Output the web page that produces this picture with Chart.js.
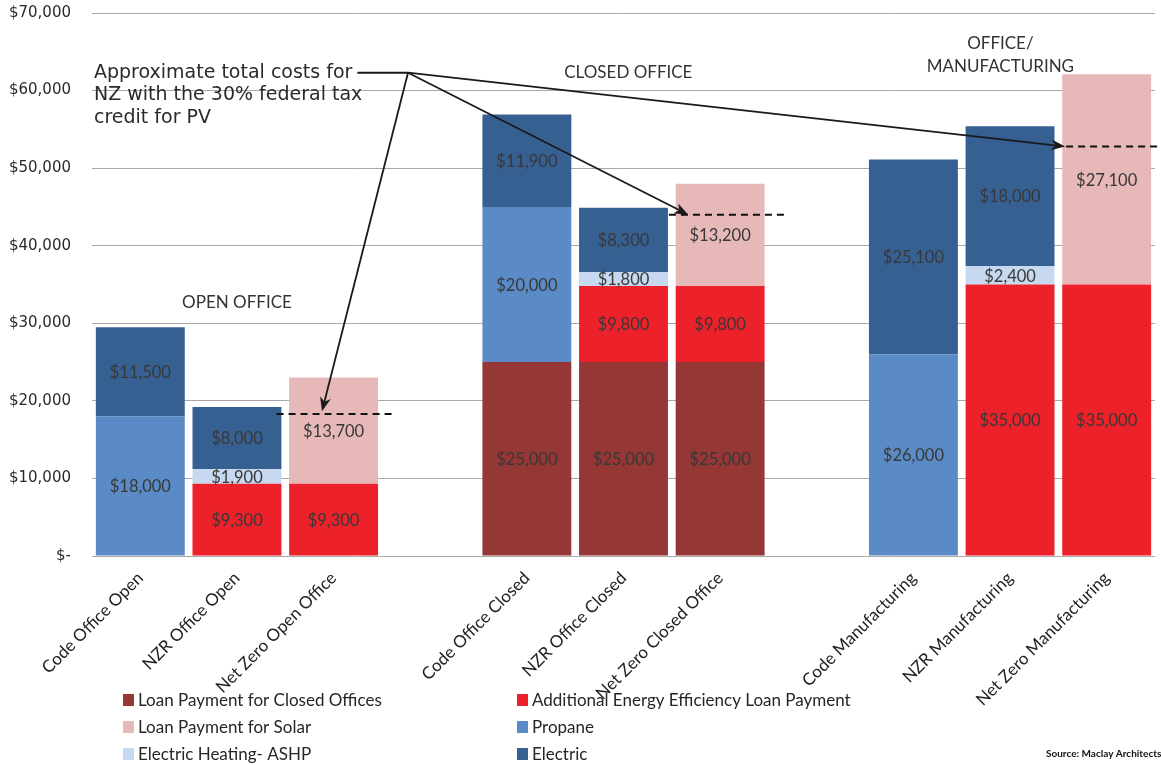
<!DOCTYPE html>
<html>
<head>
<meta charset="utf-8">
<script src="https://cdn.jsdelivr.net/npm/chart.js@4.4.1/dist/chart.umd.min.js"></script>
<style>
  html, body { margin: 0; padding: 0; background: #fff; overflow: hidden; }
  #wrap { position: relative; width: 1161px; height: 765px; }
</style>
</head>
<body>
<div id="wrap"><canvas id="c" width="1161" height="765"></canvas></div>
<script>
// Building scenarios; empty strings leave a gap between the three groups
const categories = [
  'Code Office Open', 'NZR Office Open', 'Net Zero Open Office', '',
  'Code Office Closed', 'NZR Office Closed', 'Net Zero Closed Office', '',
  'Code Manufacturing', 'NZR Manufacturing', 'Net Zero Manufacturing'
];

// Annual cost components ($), stacked bottom to top
const loanClosedOffices = [null, null, null, null, 25000, 25000, 25000, null, null, null, null];
const efficiencyLoan    = [null, 9300, 9300, null, null, 9800, 9800, null, null, 35000, 35000];
const propane           = [18000, null, null, null, 20000, null, null, null, 26000, null, null];
const heatingASHP       = [null, 1900, null, null, null, 1800, null, null, null, 2400, null];
const solarLoan         = [null, null, 13700, null, null, null, 13200, null, null, null, 27100];
const electric          = [11500, 8000, null, null, 11900, 8300, null, null, 25100, 18000, null];

const yTickLabels = ['$-', '$10,000', '$20,000', '$30,000', '$40,000', '$50,000', '$60,000', '$70,000'];

// Net zero totals after the 30% federal PV tax credit (open, closed, manufacturing)
const creditTotals = [18300, 44000, 52800];
const creditBars = [2, 6, 10];

const groupLabels = [['OPEN OFFICE'], ['CLOSED OFFICE'], ['OFFICE/', 'MANUFACTURING']];
const noteLines = ['Approximate total costs for', 'NZ with the 30% federal tax', 'credit for PV'];
const sourceText = 'Source: Maclay Architectss';

const seriesNames = [
  'Loan Payment for Closed Offices', 'Additional Energy Efficiency Loan Payment', 'Propane',
  'Electric Heating- ASHP', 'Loan Payment for Solar', 'Electric'
];
const seriesColors = ['#953735', '#ED2129', '#5A8BC6', '#C6D9F0', '#E6B8B7', '#366092'];
const seriesData = [loanClosedOffices, efficiencyLoan, propane, heatingASHP, solarLoan, electric];

// legend reading order: two columns, three rows
const legendOrder = [[0, 1], [4, 2], [3, 5]];

// placement of the annotation layer (category index units / dollar values)
const layout = {
  groupAt: [{ x: 1.0, y: 32700 }, { x: 5.05, y: 62300 }, { x: 8.9, y: 66100 }],
  groupLineStep: 23,
  dashSpan: [[-0.59, 0.65], [-0.53, 0.71], [-0.42, 0.6]],
  arrowFrom: { x: 2.77, y: 62300 },
  arrowTo: [{ x: 1.88, y: 18650 }, { x: 5.67, y: 44000 }, { x: 9.57, y: 52800 }],
  noteX: 94, noteY: 73, noteStep: 22.5,
  legendCols: [123, 517], legendRows: [700, 727, 754],
  sourceX: 1046, sourceY: 754
};

const fmt = v => '$' + v.toLocaleString('en-US');

const annotations = {
  id: 'annotations',
  afterDatasetsDraw(chart) {
    const ctx = chart.ctx;
    ctx.save();
    ctx.font = '16.5px Lato';
    ctx.fillStyle = '#383838';
    ctx.textAlign = 'center';
    ctx.textBaseline = 'middle';
    chart.data.datasets.forEach((ds, di) => {
      chart.getDatasetMeta(di).data.forEach((el, i) => {
        const v = ds.data[i];
        if (v == null) return;
        const p = el.getCenterPoint();
        ctx.fillText(fmt(v), p.x, p.y + 1);
      });
    });
    ctx.restore();
  },
  afterDraw(chart) {
    const ctx = chart.ctx;
    const xs = chart.scales.x, ys = chart.scales.y;
    const x0 = xs.getPixelForValue(0);
    const slot = xs.getPixelForValue(1) - x0;
    const px = f => x0 + f * slot;
    const py = v => ys.getPixelForValue(v);
    ctx.save();

    // group headings
    ctx.font = '17px Lato';
    ctx.fillStyle = '#333';
    ctx.textAlign = 'center';
    ctx.textBaseline = 'middle';
    groupLabels.forEach((lines, g) => {
      const at = layout.groupAt[g];
      lines.forEach((t, k) => ctx.fillText(t, px(at.x), py(at.y) + k * layout.groupLineStep));
    });

    // dashed after-credit totals
    ctx.strokeStyle = '#111';
    ctx.lineWidth = 2;
    ctx.setLineDash([7, 5]);
    creditTotals.forEach((v, k) => {
      const c = creditBars[k], s = layout.dashSpan[k];
      ctx.beginPath();
      ctx.moveTo(px(c + s[0]), py(v));
      ctx.lineTo(px(c + s[1]), py(v));
      ctx.stroke();
    });
    ctx.setLineDash([]);

    // note text
    ctx.font = '19px "DejaVu Sans"';
    ctx.fillStyle = '#2a2a2a';
    ctx.textAlign = 'left';
    noteLines.forEach((t, k) => ctx.fillText(t, layout.noteX, layout.noteY + k * layout.noteStep));
    const lineEnd = layout.noteX + ctx.measureText(noteLines[0]).width;

    // leader and arrows
    const ox = px(layout.arrowFrom.x), oy = py(layout.arrowFrom.y);
    ctx.strokeStyle = '#1a1a1a';
    ctx.fillStyle = '#1a1a1a';
    ctx.lineWidth = 1.8;
    ctx.beginPath();
    ctx.moveTo(lineEnd + 5, oy);
    ctx.lineTo(ox, oy);
    ctx.stroke();
    layout.arrowTo.forEach(t => {
      const tx = px(t.x), ty = py(t.y);
      const ang = Math.atan2(ty - oy, tx - ox);
      const L = 14, W = 5.5;
      const bx = tx - Math.cos(ang) * L, by = ty - Math.sin(ang) * L;
      ctx.beginPath();
      ctx.moveTo(ox, oy);
      ctx.lineTo(tx - Math.cos(ang) * 8, ty - Math.sin(ang) * 8);
      ctx.stroke();
      ctx.beginPath();
      ctx.moveTo(tx, ty);
      ctx.lineTo(bx + Math.sin(ang) * W, by - Math.cos(ang) * W);
      ctx.lineTo(tx - Math.cos(ang) * 10, ty - Math.sin(ang) * 10);
      ctx.lineTo(bx - Math.sin(ang) * W, by + Math.cos(ang) * W);
      ctx.closePath();
      ctx.fill();
    });

    // legend
    ctx.font = '17px Lato';
    ctx.textBaseline = 'middle';
    legendOrder.forEach((row, r) => {
      row.forEach((si, c) => {
        const lx = layout.legendCols[c], ly = layout.legendRows[r];
        ctx.fillStyle = seriesColors[si];
        ctx.fillRect(lx, ly - 6, 11, 12);
        ctx.fillStyle = '#262626';
        ctx.fillText(seriesNames[si], lx + 15, ly + 1);
      });
    });

    // source credit
    ctx.font = 'bold 10px Lato';
    ctx.fillStyle = '#111';
    ctx.fillText(sourceText, layout.sourceX, layout.sourceY);
    ctx.restore();
  }
};

new Chart(document.getElementById('c'), {
  type: 'bar',
  data: {
    labels: categories,
    datasets: seriesData.map((d, i) => ({
      label: seriesNames[i],
      data: d,
      backgroundColor: seriesColors[i],
      borderWidth: 0,
      categoryPercentage: 1,
      barPercentage: 0.92
    }))
  },
  options: {
    responsive: false,
    animation: false,
    layout: { padding: { left: 0, right: 6, top: 13, bottom: 0 } },
    plugins: { legend: { display: false }, tooltip: { enabled: false } },
    scales: {
      x: {
        stacked: true,
        grid: { display: false },
        border: { display: false },
        ticks: {
          autoSkip: false, maxRotation: 45, minRotation: 45, padding: 4,
          font: { family: 'Lato', size: 17 }, color: '#222'
        },
        afterFit(s) { s.height = 209; s.paddingLeft = 0; s.paddingRight = 0; }
      },
      y: {
        stacked: true,
        min: 0, max: 70000,
        grid: { color: '#a8a8a8', drawTicks: false, lineWidth: 1 },
        border: { display: false },
        ticks: {
          stepSize: 10000, padding: 21,
          callback: (v, i) => yTickLabels[i],
          font: { family: 'DejaVu Sans', size: 15 }, color: '#2a2a2a'
        },
        afterFit(s) { s.width = 92; s.paddingTop = 0; s.paddingBottom = 0; }
      }
    }
  },
  plugins: [annotations]
});
</script>
</body>
</html>
